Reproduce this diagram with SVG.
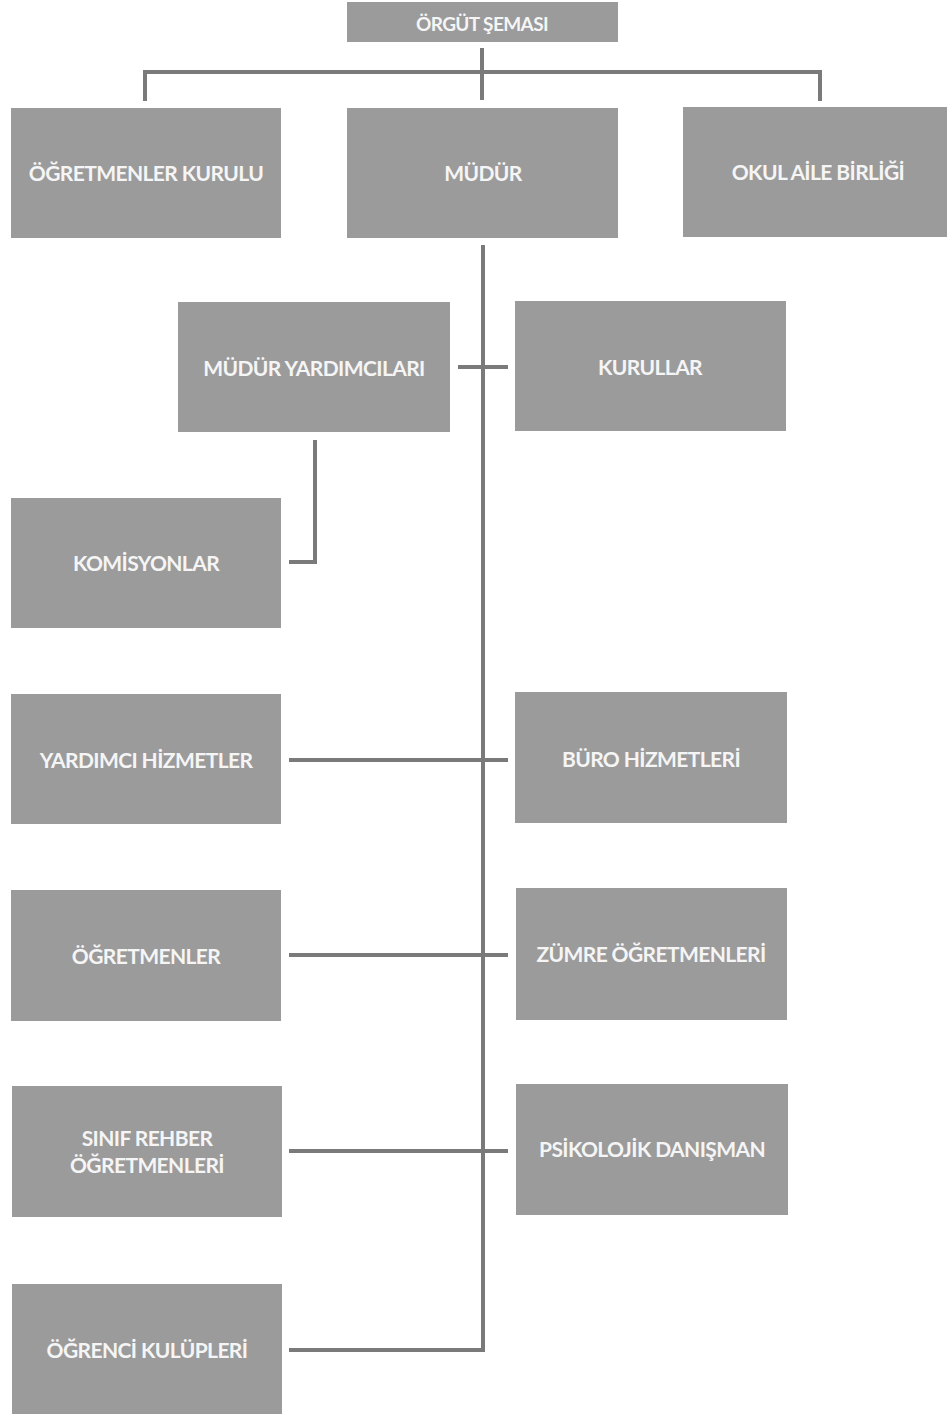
<svg xmlns="http://www.w3.org/2000/svg" width="947" height="1416" viewBox="0 0 947 1416">
<style>
.box{fill:#9b9b9b;}
.lbl{font-family:Lato,"Open Sans","Liberation Sans",sans-serif;font-size:21px;font-weight:bold;letter-spacing:-0.6px;fill:#f5f5f5;text-anchor:middle;dominant-baseline:central;}
.ln{stroke:#7a7a7a;stroke-width:4;fill:none;}
</style>
<rect width="947" height="1416" fill="#ffffff"/>
<g id="connectors">
<path class="ln" d="M482,48 V100"/>
<path class="ln" d="M145,101 V72 H820 V101"/>
<path class="ln" d="M483,245 V1350 H289"/>
<path class="ln" d="M458,367 H508"/>
<path class="ln" d="M315,440 V562 H289"/>
<path class="ln" d="M289,760 H508"/>
<path class="ln" d="M289,955 H508"/>
<path class="ln" d="M289,1151 H508"/>
</g>
<g id="title"><rect class="box" x="347" y="2" width="271" height="40"/><text class="lbl" x="482" y="23" style="font-size:19px">ÖRGÜT ŞEMASI</text></g>
<g id="ogretmenler-kurulu"><rect class="box" x="11" y="108" width="270" height="130"/><text class="lbl" x="146" y="172">ÖĞRETMENLER KURULU</text></g>
<g id="mudur"><rect class="box" x="347" y="108" width="271" height="130"/><text class="lbl" x="483" y="172">MÜDÜR</text></g>
<g id="okul-aile-birligi"><rect class="box" x="683" y="107" width="264" height="130"/><text class="lbl" x="818" y="171">OKUL AİLE BİRLİĞİ</text></g>
<g id="mudur-yardimcilari"><rect class="box" x="178" y="302" width="272" height="130"/><text class="lbl" x="314" y="367">MÜDÜR YARDIMCILARI</text></g>
<g id="kurullar"><rect class="box" x="515" y="301" width="271" height="130"/><text class="lbl" x="650" y="366">KURULLAR</text></g>
<g id="komisyonlar"><rect class="box" x="11" y="498" width="270" height="130"/><text class="lbl" x="146" y="562">KOMİSYONLAR</text></g>
<g id="yardimci-hizmetler"><rect class="box" x="11" y="694" width="270" height="130"/><text class="lbl" x="146" y="759">YARDIMCI HİZMETLER</text></g>
<g id="buro-hizmetleri"><rect class="box" x="515" y="692" width="272" height="131"/><text class="lbl" x="651" y="758">BÜRO HİZMETLERİ</text></g>
<g id="ogretmenler"><rect class="box" x="11" y="890" width="270" height="131"/><text class="lbl" x="146" y="955">ÖĞRETMENLER</text></g>
<g id="zumre-ogretmenleri"><rect class="box" x="516" y="888" width="271" height="132"/><text class="lbl" x="651" y="953">ZÜMRE ÖĞRETMENLERİ</text></g>
<g id="sinif-rehber"><rect class="box" x="12" y="1086" width="270" height="131"/><text class="lbl" x="147" y="1137">SINIF REHBER</text><text class="lbl" x="147" y="1164">ÖĞRETMENLERİ</text></g>
<g id="psikolojik-danisman"><rect class="box" x="516" y="1084" width="272" height="131"/><text class="lbl" x="652" y="1148">PSİKOLOJİK DANIŞMAN</text></g>
<g id="ogrenci-kulupleri"><rect class="box" x="12" y="1284" width="270" height="130"/><text class="lbl" x="147" y="1349">ÖĞRENCİ KULÜPLERİ</text></g>
</svg>
